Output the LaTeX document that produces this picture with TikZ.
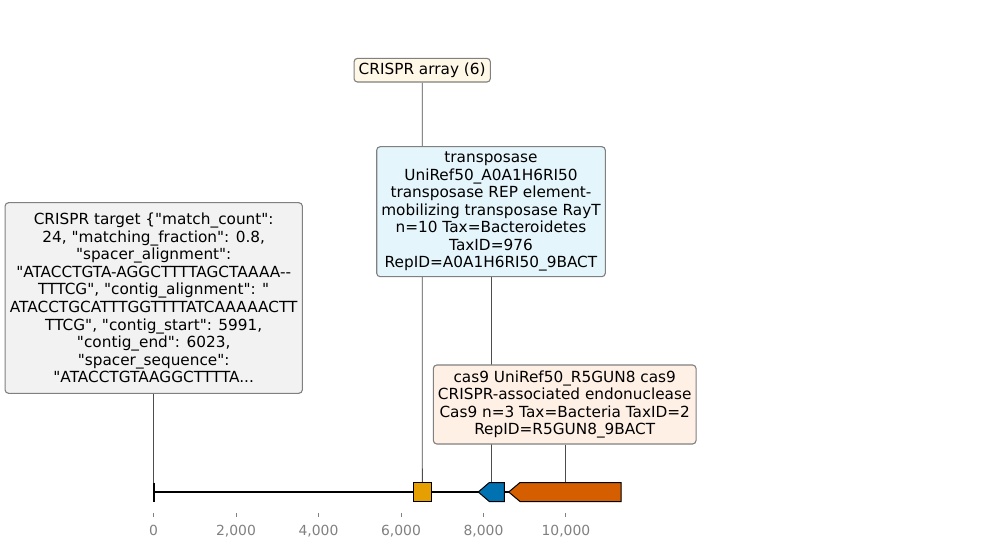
\documentclass[tikz,border=0pt]{standalone}
\usepackage{fontspec}
\setmainfont{DejaVu Sans}[Ligatures=TeXOff]
\usetikzlibrary{backgrounds}
\definecolor{boxedge}{HTML}{808080}
\definecolor{creamfill}{HTML}{FFF8E7}
\definecolor{bluefill}{HTML}{E5F5FC}
\definecolor{peachfill}{HTML}{FFF0E5}
\definecolor{greyfill}{HTML}{F2F2F2}
\definecolor{featorange}{HTML}{E69F00}
\definecolor{featblue}{HTML}{0072B2}
\definecolor{featred}{HTML}{D55E00}
\definecolor{conn}{HTML}{4D4D4D}
\definecolor{tickgrey}{HTML}{808080}
\tikzset{
  labelbox/.style={draw=boxedge, line width=1.1pt, rounded corners=3.5pt, inner sep=0pt, align=center,
    font=\fontsize{15.3}{17.55}\selectfont},
  connector/.style={draw=conn, line width=0.9pt},
  feature/.style={draw=black, line width=1pt},
  ticklabel/.style={text=tickgrey, font=\fontsize{13.9}{16}\selectfont, anchor=base, inner sep=0pt},
  tickmark/.style={draw=tickgrey, line width=0.9pt}
}
\begin{document}
\begin{tikzpicture}[x=1pt, y=-1pt]
\useasboundingbox (0,0) rectangle (989,548);

% label boxes
\node[labelbox, fill=creamfill, minimum width=136.3pt, minimum height=23.7pt] (crispr) at (422.2,70.2) {CRISPR array (6)};
\node[labelbox, fill=bluefill, minimum width=228.6pt, minimum height=130pt] (transp) at (491,211.7)
  {transposase\\UniRef50\_A0A1H6RI50\\transposase REP element-\\mobilizing transposase RayT\\n=10 Tax=Bacteroidetes\\TaxID=976\\RepID=A0A1H6RI50\_9BACT};
\node[labelbox, fill=peachfill, minimum width=262.7pt, minimum height=79pt] (cas) at (564.7,404.5)
  {cas9 UniRef50\_R5GUN8 cas9\\CRISPR-associated endonuclease\\Cas9 n=3 Tax=Bacteria TaxID=2\\RepID=R5GUN8\_9BACT};
\node[labelbox, fill=greyfill, minimum width=297.3pt, minimum height=190.6pt] (target) at (153.7,298)
  {CRISPR target \{"match\_count":\\24, "matching\_fraction": 0.8,\\"spacer\_alignment":\\"ATACCTGTA-AGGCTTTTAGCTAAAA-{}-\\TTTCG", "contig\_alignment": "\\ATACCTGCATTTGGTTTTATCAAAAACTT\\TTCG", "contig\_start": 5991,\\"contig\_end": 6023,\\"spacer\_sequence":\\"ATACCTGTAAGGCTTTTA...};

% features
\draw[black, line width=2pt] (153.5,492) -- (621,492);
\draw[black, line width=2pt] (153.5,482.5) -- (153.5,501.5);
\coordinate (fstart) at (153.5,482.5);
\node[feature, fill=featorange, minimum width=18pt, minimum height=19pt, inner sep=0pt, rectangle] (arr) at (422.3,492) {};
\draw[feature, fill=featblue] (478.3,492) -- (489.3,482.5) -- (504.3,482.5) -- (504.3,501.5) -- (489.3,501.5) -- cycle;
\coordinate (ftr) at (491.5,482.5);
\draw[feature, fill=featred] (508.7,492) -- (520,482.5) -- (621,482.5) -- (621,501.5) -- (520,501.5) -- cycle;
\coordinate (fcas) at (565.5,482.5);

% connectors (behind boxes)
\begin{pgfonlayer}{background}
\draw[connector] (crispr.south) -- (arr.north);
\draw[connector] (transp.south -| ftr) -- (ftr);
\draw[connector] (cas.south -| fcas) -- (fcas);
\draw[connector] (target.south -| fstart) -- (fstart);
\end{pgfonlayer}

% axis ticks
\foreach \v/\t in {0/0, 2000/{2,000}, 4000/{4,000}, 6000/{6,000}, 8000/{8,000}, 10000/{10,000}} {
  \coordinate (tk\v) at ({153.5+0.04125*\v},513);
  \draw[tickmark] (tk\v) -- ++(0,4);
  \node[ticklabel] at ({153.5+0.04125*\v},535) {\t};
}
\end{tikzpicture}
\end{document}
